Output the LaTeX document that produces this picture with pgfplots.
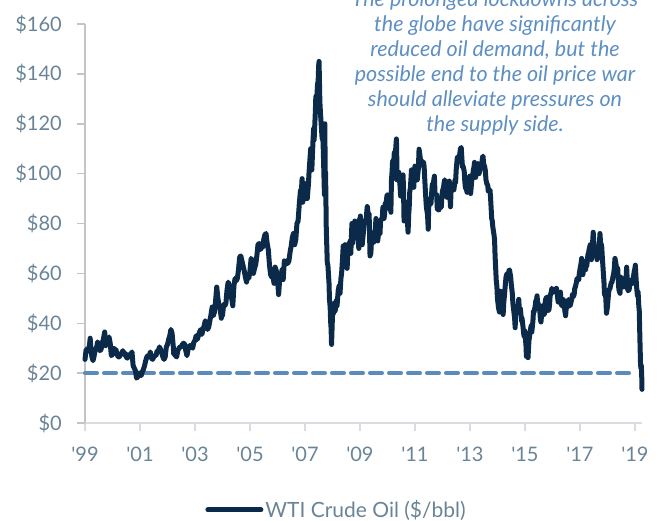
\documentclass[border=0pt]{standalone}
\usepackage{pgfplots}
\pgfplotsset{compat=1.18}
\usepackage{pgfplotstable}
\usepackage{fontspec}
\setmainfont{Lato}
\definecolor{navy}{HTML}{0B2A4A}
\definecolor{dashblue}{HTML}{5B8BBB}
\definecolor{lblgray}{HTML}{6A8497}
\definecolor{annblue}{HTML}{5E8FC2}
\definecolor{yaxgray}{HTML}{C4C4C4}
\definecolor{xaxgray}{HTML}{D9DDE2}

% m = months since the first label tick, p = WTI $/bbl
\pgfplotstableread[row sep=\\]{
m p\\
0 25.5\\ 0.5 29.5\\ 1 28.5\\ 1.5 29.5\\ 2 31.5\\ 2.25 34\\ 2.5 31\\ 3 26.5\\ 3.5 25\\ 4 27\\ 4.5 29.5\\ 5 30\\ 5.5 32.5\\ 6 31.5\\ 6.5 29\\ 7 29.5\\ 7.5 32\\ 8 33.5\\ 8.6 36.5\\ 9 31\\ 9.5 34\\ 10 33\\ 10.5 34.5\\ 11 32\\ 11.5 27\\
12 27.5\\ 12.5 30\\ 13 29.5\\ 13.5 29.5\\ 14 27.5\\ 14.5 26.5\\ 15 26.5\\ 15.5 27.5\\ 16 28\\ 16.5 29\\ 17 27.5\\ 17.5 28\\ 18 26.5\\ 18.5 26\\ 19 27\\ 19.5 27.5\\ 20 27.5\\ 20.5 28.5\\ 21 23\\ 21.5 22\\ 22 21\\ 22.5 18\\ 23 18.5\\ 23.5 20\\
24 20\\ 24.5 19\\ 25 20.5\\ 25.5 21.5\\ 26 23\\ 26.5 25\\ 27 26.5\\ 27.5 27\\ 28 26.5\\ 28.5 28.5\\ 29 26\\ 29.5 25.5\\ 30 26.5\\ 30.5 27\\ 31 27\\ 31.5 29\\ 32 29\\ 32.5 30.5\\ 33 29.5\\ 33.5 28\\ 34 26.5\\ 34.5 25.5\\ 35 26.5\\ 35.5 30.5\\
36 31.5\\ 36.5 33.5\\ 37 35\\ 37.5 37.5\\ 38 36\\ 38.5 31\\ 38.75 27.5\\ 39 28\\ 39.5 27\\ 40 26.5\\ 40.5 29\\ 41 30\\ 41.5 30.5\\ 42 30.5\\ 42.5 31.5\\ 43 32\\ 43.5 31.5\\ 44 29\\ 44.5 27\\ 45 29.5\\ 45.5 31\\ 46 31\\ 46.5 30.5\\ 47 30\\ 47.5 32.5\\
48 33\\ 48.5 35\\ 49 33.5\\ 49.5 35\\ 50 36.5\\ 50.5 37.5\\ 51 35.5\\ 51.5 37.5\\ 52 39\\ 52.5 41\\ 53 40\\ 53.5 37.5\\ 54 38.5\\ 54.5 41\\ 55 43.5\\ 55.5 46.5\\ 56 43\\ 56.5 44.5\\ 57 49\\ 57.5 54.5\\ 58 50\\ 58.5 47\\ 59 45.5\\ 59.5 42\\ 59.75 43.5\\
60 43\\ 60.5 47.5\\ 61 47\\ 61.5 48\\ 62 53.5\\ 62.5 56.5\\ 63 55\\ 63.5 50.5\\ 64 50\\ 64.5 47\\ 65 55\\ 65.5 58\\ 66 57\\ 66.5 58\\ 67 61.5\\ 67.5 66.5\\ 68 67\\ 68.5 65\\ 69 63\\ 69.5 61\\ 70 58.5\\ 70.5 56.5\\ 71 59.5\\ 71.5 58\\
72 61\\ 72.5 66\\ 73 65\\ 73.5 60\\ 74 62\\ 74.5 63.5\\ 75 67\\ 75.5 71.5\\ 76 72\\ 76.5 69.5\\ 77 70.5\\ 77.5 70.5\\ 78 73.5\\ 78.5 75.5\\ 79 76\\ 79.5 72\\ 80 69.5\\ 80.5 63.5\\ 81 59.5\\ 81.5 58.5\\ 82 59\\ 82.5 56\\ 83 62.5\\ 83.5 61\\
84 58\\ 84.5 51.5\\ 85 58\\ 85.5 58.5\\ 86 61.5\\ 86.5 57.5\\ 87 65\\ 87.5 63.5\\ 88 65\\ 88.5 64\\ 89 65\\ 89.5 68.5\\ 90 71\\ 90.5 74.5\\ 91 76\\ 91.5 71.5\\ 92 73.5\\ 92.5 80\\ 93 81\\ 93.5 87.5\\ 94 93\\ 94.5 94\\ 94.75 98\\ 95 88.5\\ 95.5 91\\
96 96\\ 96.25 92\\ 96.5 90\\ 96.75 91\\ 97 90\\ 97.5 95.5\\ 97.75 100\\ 98 103.5\\ 98.5 110\\ 98.75 103\\ 99 101.5\\ 99.5 113\\ 99.75 118\\ 100 113.5\\ 100.5 124\\ 100.75 131\\ 101 127.5\\ 101.5 136\\ 101.75 137\\ 102 143.5\\ 102.15 145\\ 102.5 129\\ 102.75 124.5\\ 103 121\\ 103.5 114\\ 103.75 116\\ 104 109.5\\ 104.5 91.5\\ 104.7 120\\ 104.8 100\\ 105 100.5\\ 105.3 78\\ 105.75 64\\ 106 63.5\\ 106.5 56\\ 106.7 49.5\\ 107 46.5\\ 107.2 40.8\\ 107.4 38\\ 107.6 31.5\\ 107.9 40\\
108.2 47\\ 108.5 44\\ 108.8 48\\ 109.2 45\\ 109.6 49\\ 110 47\\ 110.5 53\\ 110.9 55\\ 111.3 52\\ 111.7 58\\ 112 60\\ 112.4 66\\ 112.7 71\\ 113 68\\ 113.5 71.5\\ 114 68\\ 114.4 62\\ 114.8 70\\ 115.2 72\\ 115.5 70.5\\ 115.75 73\\ 116 68\\ 116.5 80\\ 116.75 72\\ 117 74\\ 117.5 76\\ 117.75 81\\ 118 78\\ 118.5 79\\ 118.75 76.5\\ 119 77\\ 119.5 70\\ 119.9 82\\
120 81.5\\ 120.2 83\\ 120.5 78\\ 120.75 73\\ 121 71.5\\ 121.5 76.5\\ 121.75 79.5\\ 122 80\\ 122.5 81.5\\ 122.75 81.5\\ 123 85\\ 123.2 86.8\\ 123.5 84.5\\ 123.75 83.5\\ 124 84\\ 124.4 67\\ 124.75 68\\ 125 72.5\\ 125.5 76\\ 125.75 76.5\\ 126 72.5\\ 126.5 76.5\\ 126.75 78.5\\ 127 82\\ 127.5 75.5\\ 127.75 73\\ 128 75\\ 128.5 77\\ 128.75 76\\ 129 81\\ 129.5 82\\ 129.75 82\\ 130 86.5\\ 130.5 82\\ 130.75 83.5\\ 131 88\\ 131.5 88.5\\ 131.75 91\\
132 91.5\\ 132.5 91\\ 132.75 86\\ 133 90\\ 133.5 84.5\\ 133.75 97.5\\ 134 100.5\\ 134.25 105\\ 134.5 98\\ 134.75 104.5\\ 135 108.5\\ 135.5 108.5\\ 135.9 113.9\\ 136 111\\ 136.2 97.5\\ 136.5 100\\ 136.75 100.5\\ 137 100.5\\ 137.5 95\\ 137.75 91\\ 138 95\\ 138.5 97\\ 138.8 99.5\\ 139 94.5\\ 139.25 81\\ 139.5 86.5\\ 139.75 86\\ 140 88.5\\ 140.5 88.5\\ 140.75 80.5\\ 141 76.5\\ 141.3 84\\ 141.5 86.5\\ 141.75 93\\ 142 94\\ 142.5 101.5\\ 142.75 97\\ 143 100.5\\ 143.5 94.5\\ 143.75 99.5\\
144 103\\ 144.5 100.5\\ 144.75 99\\ 145 97.5\\ 145.5 102\\ 145.8 109.8\\ 146 108.5\\ 146.5 105\\ 146.75 105.5\\ 147 104\\ 147.5 103\\ 147.75 104.5\\ 148 103\\ 148.5 94\\ 148.75 90\\ 149 86.5\\ 149.5 83.5\\ 149.8 77.7\\ 150 86.5\\ 150.5 88.5\\ 150.75 90\\ 151 88\\ 151.5 95\\ 151.75 96\\ 152 96\\ 152.5 99\\ 152.75 92\\ 153 91.5\\ 153.5 91.5\\ 153.75 86\\ 154 85.5\\ 154.5 85.5\\ 154.75 88\\ 155 87\\ 155.5 86.5\\ 155.75 90.5\\
156 93\\ 156.5 94.5\\ 156.75 96.5\\ 157 97.5\\ 157.5 96\\ 157.75 92.5\\ 158 90.5\\ 158.5 93\\ 158.75 96\\ 159 97\\ 159.5 86.7\\ 159.75 93\\ 160 95.5\\ 160.5 94\\ 160.75 93.5\\ 161 93.5\\ 161.5 97.5\\ 161.75 96.5\\ 162 101.5\\ 162.5 106.5\\ 162.75 104.5\\ 163 106\\ 163.5 107.5\\ 163.85 110\\ 164.2 110.5\\ 164.5 106\\ 164.75 102.5\\ 165 103\\ 165.5 101\\ 165.75 97\\ 166 94.5\\ 166.5 93.5\\ 166.75 92.5\\ 167 97\\ 167.5 97.5\\ 167.9 99\\
168 95\\ 168.3 92\\ 168.5 94\\ 168.75 97\\ 169 98\\ 169.5 101.5\\ 169.75 102.5\\ 170 104.5\\ 170.5 98.5\\ 170.75 101\\ 171 100\\ 171.5 104\\ 171.75 101.5\\ 172 100\\ 172.5 102\\ 172.75 104\\ 173 103\\ 173.5 106.5\\ 173.7 107\\ 174 104\\ 174.5 102.5\\ 174.75 101\\ 175 97.5\\ 175.5 95.5\\ 175.75 95.5\\ 176 93\\ 176.5 93\\ 176.75 93.5\\ 177 90.5\\ 177.5 82\\ 177.75 81\\ 178 78.5\\ 178.5 75.5\\ 178.75 73.5\\ 179 66.5\\ 179.5 57\\ 179.75 55\\
180 50\\ 180.5 46\\ 180.9 44.5\\ 181.1 53\\ 181.5 52.5\\ 181.75 49\\ 182 50\\ 182.5 43.5\\ 182.75 48\\ 183 50.5\\ 183.5 56\\ 183.75 58.5\\ 184 59.5\\ 184.5 60\\ 184.75 59\\ 185 61\\ 185.3 61.4\\ 185.5 60\\ 185.75 59\\ 186 56\\ 186.5 52\\ 186.75 48\\ 187 46\\ 187.5 42\\ 187.75 38.2\\ 187.95 45.5\\ 188 46\\ 188.5 44.5\\ 188.75 45\\ 189 46\\ 189.3 49.6\\ 189.5 46.5\\ 189.75 45.5\\ 190 46\\ 190.5 41\\ 190.75 42\\ 191 40\\ 191.5 35.5\\ 191.7 34.7\\ 191.9 37\\
192 36.5\\ 192.5 30.5\\ 192.65 26.7\\ 192.9 33.5\\ 193 31.5\\ 193.35 26.2\\ 193.75 33\\ 194 34.5\\ 194.5 38\\ 194.75 39\\ 195 36.5\\ 195.5 41\\ 195.75 45\\ 196 44.5\\ 196.5 47\\ 196.75 49\\ 197 49\\ 197.3 51\\ 197.5 48.5\\ 197.75 48\\ 198 47\\ 198.5 45\\ 198.75 41.5\\ 199 40.5\\ 199.5 45.5\\ 199.75 47\\ 200 44.5\\ 200.5 43.5\\ 200.75 47.5\\ 201 49.5\\ 201.5 50.5\\ 201.75 49\\ 202 45\\ 202.5 45.5\\ 202.75 47.5\\ 203 51\\ 203.5 52.5\\ 203.75 54\\
204 53.5\\ 204.5 52.5\\ 204.75 53\\ 205 53.5\\ 205.5 53\\ 205.75 54\\ 206 52.5\\ 206.5 48.5\\ 206.75 50\\ 207 50.5\\ 207.5 52.5\\ 207.75 49\\ 208 47\\ 208.5 48.5\\ 208.75 49.5\\ 209 48\\ 209.5 44.5\\ 209.75 43\\ 210 46\\ 210.5 46.5\\ 210.75 48.5\\ 211 49.5\\ 211.5 48\\ 211.75 47\\ 212 48\\ 212.5 50\\ 212.75 51.5\\ 213 50.5\\ 213.5 51.5\\ 213.75 54\\ 214 54.5\\ 214.5 56.5\\ 214.75 58\\ 215 57.5\\ 215.5 57.5\\ 215.75 60\\
216 61.5\\ 216.5 64\\ 216.75 66\\ 217 64\\ 217.3 59.5\\ 217.75 63\\ 218 61.5\\ 218.5 61.5\\ 218.75 65\\ 219 63\\ 219.5 67.5\\ 219.75 68\\ 220 69.5\\ 220.5 71.5\\ 220.75 68\\ 221 65.5\\ 221.4 70\\ 221.8 76.5\\ 222.1 72\\ 222.5 68.5\\ 222.75 69\\ 223 68.5\\ 223.5 65.5\\ 223.75 69.5\\ 224 68.5\\ 224.4 70\\ 224.75 76\\ 225 72.5\\ 225.5 71\\ 225.75 67\\ 226 63.5\\ 226.5 56.5\\ 226.75 51.5\\ 227 52.5\\ 227.3 50\\ 227.6 44\\
228 46.5\\ 228.5 52\\ 228.75 53.5\\ 229 53.5\\ 229.5 55.5\\ 229.75 56.5\\ 230 56.5\\ 230.5 59\\ 230.75 60\\ 231 62\\ 231.3 66\\ 231.7 64\\ 232 62\\ 232.5 62\\ 232.75 57\\ 233 53.5\\ 233.5 52\\ 233.75 58.5\\ 234 57\\ 234.5 58\\ 234.75 56\\ 235 54.5\\ 235.5 55.5\\ 235.75 54.5\\ 236 55.5\\ 236.4 62.5\\ 236.75 55.5\\ 237 53\\ 237.5 53.5\\ 237.75 55.5\\ 238 56.5\\ 238.5 57.5\\ 238.75 57.5\\ 239 56\\ 239.5 59.5\\ 239.75 61\\
240 62\\ 240.2 63.3\\ 240.5 58\\ 240.8 54\\ 241.1 51\\ 241.4 52.5\\ 241.7 47\\ 241.9 45\\ 242.2 33\\ 242.45 24\\ 242.6 22\\ 242.8 23\\ 242.95 20\\ 243.1 13.5\\
}\wti

\begin{document}
\begin{tikzpicture}[x=1pt,y=1pt]
\begin{axis}[
  at={(85pt,97pt)}, anchor=south west,
  scale only axis, width=557pt, height=399pt,
  xmin=0, xmax=243.1, ymin=0, ymax=160,
  axis x line*=bottom, axis y line*=left,
  axis line style={-},
  x axis line style={xaxgray, line width=2pt},
  y axis line style={yaxgray, line width=1.5pt},
  xtick={0,24,...,240},
  xticklabels={\textquotesingle 99,\textquotesingle 01,\textquotesingle 03,\textquotesingle 05,\textquotesingle 07,\textquotesingle 09,\textquotesingle 11,\textquotesingle 13,\textquotesingle 15,\textquotesingle 17,\textquotesingle 19},
  ytick={0,20,...,160},
  yticklabels={\$0,\$20,\$40,\$60,\$80,\$100,\$120,\$140,\$160},
  tick align=outside,
  major tick length=8pt,
  x tick style={xaxgray, line width=1.5pt},
  y tick style={yaxgray, line width=1.5pt},
  ticklabel style={font=\fontsize{20}{24}\selectfont, text=lblgray},
  yticklabel style={inner sep=0pt, anchor=east, xshift=-15pt},
  xticklabel style={inner sep=0pt, anchor=north, yshift=-16pt},
  clip=false,
  legend style={at={(axis description cs:0.4516,-0.218)}, anchor=center,
    draw=none, fill=none, font=\fontsize{21}{25}\selectfont, text=lblgray,
    nodes={inner sep=2pt}},
  legend image code/.code={\draw[#1] (0pt,0pt) -- (53pt,0pt);},
]
\addplot[dashblue, line width=4pt, dash pattern=on 12pt off 7pt, line cap=round, forget plot] coordinates {(0,20) (240,20)};
\addplot[navy, line width=5pt, line join=round, line cap=round] table[x=m, y=p] {\wti};
\addlegendentry{WTI Crude Oil (\$/bbl)}
\end{axis}
\begin{scope}[every node/.style={anchor=base, text=annblue, font=\itshape\fontsize{21.5}{25}\selectfont, inner sep=0pt}]
\node at (495,513) {The prolonged lockdowns across};
\node at (495,488) {the globe have significantly};
\node at (495,463) {reduced oil demand, but the};
\node at (495,438) {possible end to the oil price war};
\node at (495,413) {should alleviate pressures on};
\node at (495,388) {the supply side.};
\end{scope}
\pgfresetboundingbox
\path[use as bounding box] (0,0) rectangle (664,520);
\end{tikzpicture}
\end{document}
